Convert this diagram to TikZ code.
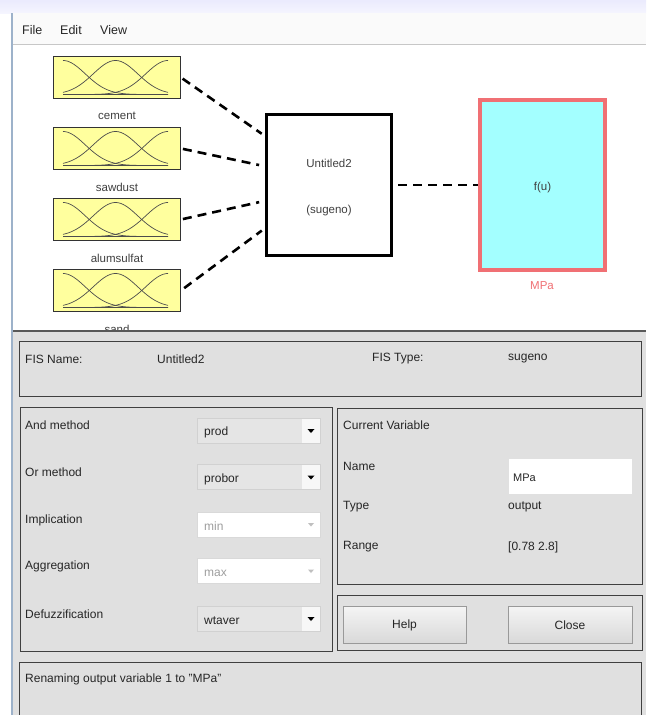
\documentclass[tikz,border=0pt]{standalone}
\usepackage{fontspec}
\setmainfont{Liberation Sans}
\usetikzlibrary{calc}
\definecolor{mfyellow}{HTML}{FFFF9E}
\definecolor{panelgray}{HTML}{E0E0E0}
\definecolor{outred}{HTML}{F07074}
\definecolor{outcyan}{HTML}{A3FFFF}
\definecolor{frameblue}{HTML}{9DB2CA}
\begin{document}
\begin{tikzpicture}[x=1pt,y=-1pt,
  mfbox/.style={draw=black!80, fill=mfyellow, line width=0.9pt, minimum width=127pt, minimum height=42pt, inner sep=0pt},
  curve/.style={draw=black!70, line width=0.7pt},
  lbl/.style={font=\fontsize{11.5}{13}\selectfont, text=black!75, inner sep=0pt},
  ui/.style={font=\fontsize{12}{14}\selectfont, anchor=west, text=black!85, inner sep=0pt},
  uidis/.style={ui, text=black!38},
  link/.style={line width=2.6pt, dash pattern=on 9pt off 6pt},
  panel/.style={draw=black!75, line width=0.9pt},
  ddon/.style={fill=black!10, draw=black!18, line width=0.6pt},
  ddoff/.style={fill=white, draw=black!15, line width=0.6pt},
  button/.style={top color=black!4, bottom color=black!15, draw=black!40, line width=0.8pt}]
\useasboundingbox (0,0) rectangle (646,715);
% window background
\fill[white] (0,0) rectangle (646,715);
\shade[top color=black!12!blue!8, bottom color=black!4!blue!4] (0,0) rectangle (646,13);
\fill[black!2] (12,13) rectangle (646,44);
\draw[black!22, line width=0.8pt] (12,44.5) -- (646,44.5);
\node[ui, font=\fontsize{12.5}{14}\selectfont] (mfile) at (22,30) {File};
\node[ui, font=\fontsize{12.5}{14}\selectfont] (medit) at (60,30) {Edit};
\node[ui, font=\fontsize{12.5}{14}\selectfont] (mview) at (100,30) {View};

% input membership boxes
\foreach \n/\ty/\nm in {1/56/cement,2/127/sawdust,3/198/alumsulfat,4/269/sand}{
  \node[mfbox] (in\n) at (117,\ty+21.5) {};
  \draw[curve] (63,\ty+38.5) -- (168,\ty+38.5);
  \foreach \c in {63,115.5,168}{
    \draw[curve] plot[domain=63:168, samples=50, smooth] (\x, {\ty+38.5-34*exp(-((\x-\c)^2)/994.6)});
  }
  \node[lbl] (lab\n) at (117,\ty+60) {\nm};
}

% FIS box
\node[draw=black, line width=3pt, minimum width=125pt, minimum height=141pt, inner sep=0pt] (fis) at (329,185) {};
\node[lbl] (fisname) at (329,163) {Untitled2};
\node[lbl] (fistype) at (329,211) {(sugeno)};

% output box
\node[draw=outred, fill=outcyan, line width=4pt, minimum width=125pt, minimum height=170pt, inner sep=0pt] (out) at (542.5,185) {};
\node[lbl] (fu) at (542.5,188) {f(u)};
\node[lbl, text=outred] (outlab) at (542,286) {MPa};

% connectors
\draw[link, shorten <=2pt, shorten >=4pt] (in1.east) -- ($(fis.north west)!0.16!(fis.south west)$);
\draw[link, shorten <=2pt, shorten >=6pt] (in2.east) -- ($(fis.north west)!0.37!(fis.south west)$);
\draw[link, shorten <=2pt, shorten >=6pt] (in3.east) -- ($(fis.north west)!0.61!(fis.south west)$);
\draw[link, shorten <=4pt, shorten >=4pt] (in4.east) -- ($(fis.north west)!0.80!(fis.south west)$);
\draw[link, shorten <=5pt] (fis.east) -- (out.west);

% lower panel
\fill[panelgray] (12,331) rectangle (646,715);
\draw[black!65, line width=1.5pt] (12,331) -- (646,331);
\draw[frameblue, line width=1.2pt] (12,13) -- (12,715);

% FIS name panel
\draw[panel] (19,341) rectangle (641,396);
\node[ui] (tfisname) at (25,359) {FIS Name:};
\node[ui] (vfisname) at (157,359) {Untitled2};
\node[ui] (tfistype) at (372,359) {FIS Type:};
\node[ui] (vfistype) at (508,359) {sugeno};

% methods panel
\draw[panel] (20,407) rectangle (332,651);
\foreach \n/\yl/\yd/\lab/\val/\st in {1/425/430.5/And method/prod/on,2/472/477/Or method/probor/on,3/520/524.5/Implication/min/off,4/566/571/Aggregation/max/off,5/614/618.5/Defuzzification/wtaver/on}{
  \node[ui] (mlab\n) at (25,\yl) {\lab};
  \draw[dd\st] (197,\yd-12.5) rectangle (320,\yd+12.5);
}
\foreach \n/\yd in {1/430.5,2/477,5/618.5}{
  \fill[black!3] (302,\yd-12) rectangle (319.6,\yd+12);
  \fill[black] (307.5,\yd-1.5) -- (314.5,\yd-1.5) -- (311,\yd+2.5) -- cycle;
}
\foreach \n/\yd in {3/524.5,4/571}{
  \fill[black!25] (308,\yd-1.5) -- (314,\yd-1.5) -- (311,\yd+2) -- cycle;
}
\node[ui] (dd1) at (204,432.5) {prod};
\node[ui] (dd2) at (204,479) {probor};
\node[uidis] (dd3) at (204,526) {min};
\node[uidis] (dd4) at (204,573) {max};
\node[ui] (dd5) at (204,620.5) {wtaver};

% current variable panel
\draw[panel] (337,408) rectangle (642,584);
\node[ui] (cvtitle) at (343,425) {Current Variable};
\node[ui] (cvname) at (343,466) {Name};
\draw[fill=white, draw=black!12, line width=0.6pt] (508,458) rectangle (632,494);
\node[ui, font=\fontsize{11}{13}\selectfont] (cvnameval) at (513,477.5) {MPa};
\node[ui] (cvtype) at (343,507) {Type};
\node[ui] (cvtypeval) at (508,507) {output};
\node[ui] (cvrange) at (343,547) {Range};
\node[ui] (cvrangeval) at (508,547) {[0.78 2.8]};

% buttons panel
\draw[panel] (337,595) rectangle (642,650);
\draw[button] (343,606) rectangle (466,643);
\draw[button] (508,606) rectangle (632,643);
\node[ui, anchor=center] (help) at (404.5,625) {Help};
\node[ui, anchor=center] (close) at (570,625) {Close};

% status panel
\draw[panel] (19,716) -- (19,662) -- (641,662) -- (641,716);
\node[ui] (status) at (25,679) {Renaming output variable 1 to "MPa"};
\end{tikzpicture}
\end{document}
